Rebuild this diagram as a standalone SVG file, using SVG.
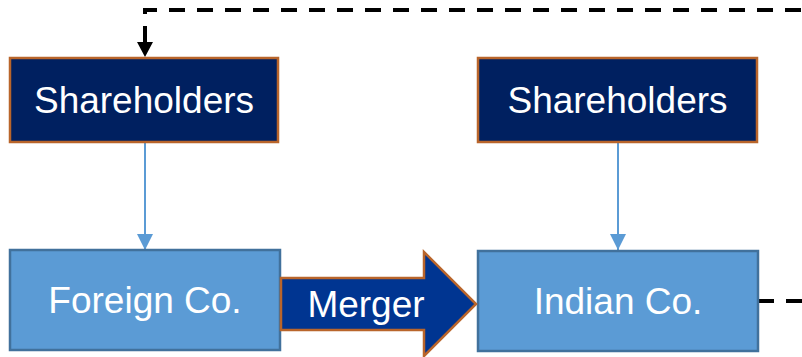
<svg xmlns="http://www.w3.org/2000/svg" width="802" height="357" viewBox="0 0 802 357">
<defs>
<style>
.dark{fill:#002060;stroke:#B9652B;stroke-width:2.5}
.light{fill:#5B9BD5;stroke:#41719C;stroke-width:2.5}
.t{font-family:"Liberation Sans",Arial,sans-serif;font-size:37px;fill:#FFFFFF;text-anchor:middle}
.blue{stroke:#5B9BD5;stroke-width:2;fill:none}
.dash{stroke:#000;stroke-width:4;fill:none;stroke-dasharray:16 12}
</style>
<marker id="ab" markerUnits="userSpaceOnUse" markerWidth="16" markerHeight="16" viewBox="0 0 16 16" refX="16" refY="8" orient="auto">
<path d="M0,0 L16,8 L0,16 Z" fill="#5B9BD5"/>
</marker>
</defs>
<g id="connectors">
<path class="blue" d="M145,142 V250" marker-end="url(#ab)"/>
<path class="blue" d="M618,142 V250" marker-end="url(#ab)"/>
<path class="dash" d="M758,301 H830 V10 H145 V44"/>
<polygon points="137,42 153,42 145,57" fill="#000"/>
</g>
<g id="shareholders-foreign">
<rect class="dark" x="10" y="58" width="268" height="84"/>
<text class="t" x="144" y="113">Shareholders</text>
</g>
<g id="shareholders-indian">
<rect class="dark" x="478" y="58" width="279" height="84"/>
<text class="t" x="617.5" y="113">Shareholders</text>
</g>
<g id="foreign-co">
<rect class="light" x="10" y="250" width="270" height="100"/>
<text class="t" x="145" y="313">Foreign Co.</text>
</g>
<g id="indian-co">
<rect class="light" x="478" y="251" width="280" height="100"/>
<text class="t" x="618" y="314">Indian Co.</text>
</g>
<g id="merger">
<path d="M281,278 H424 V252 L476,304 L424,356 V330 H281 Z" fill="#003591" stroke="#B9652B" stroke-width="2.5"/>
<text class="t" x="366" y="317">Merger</text>
</g>
</svg>
